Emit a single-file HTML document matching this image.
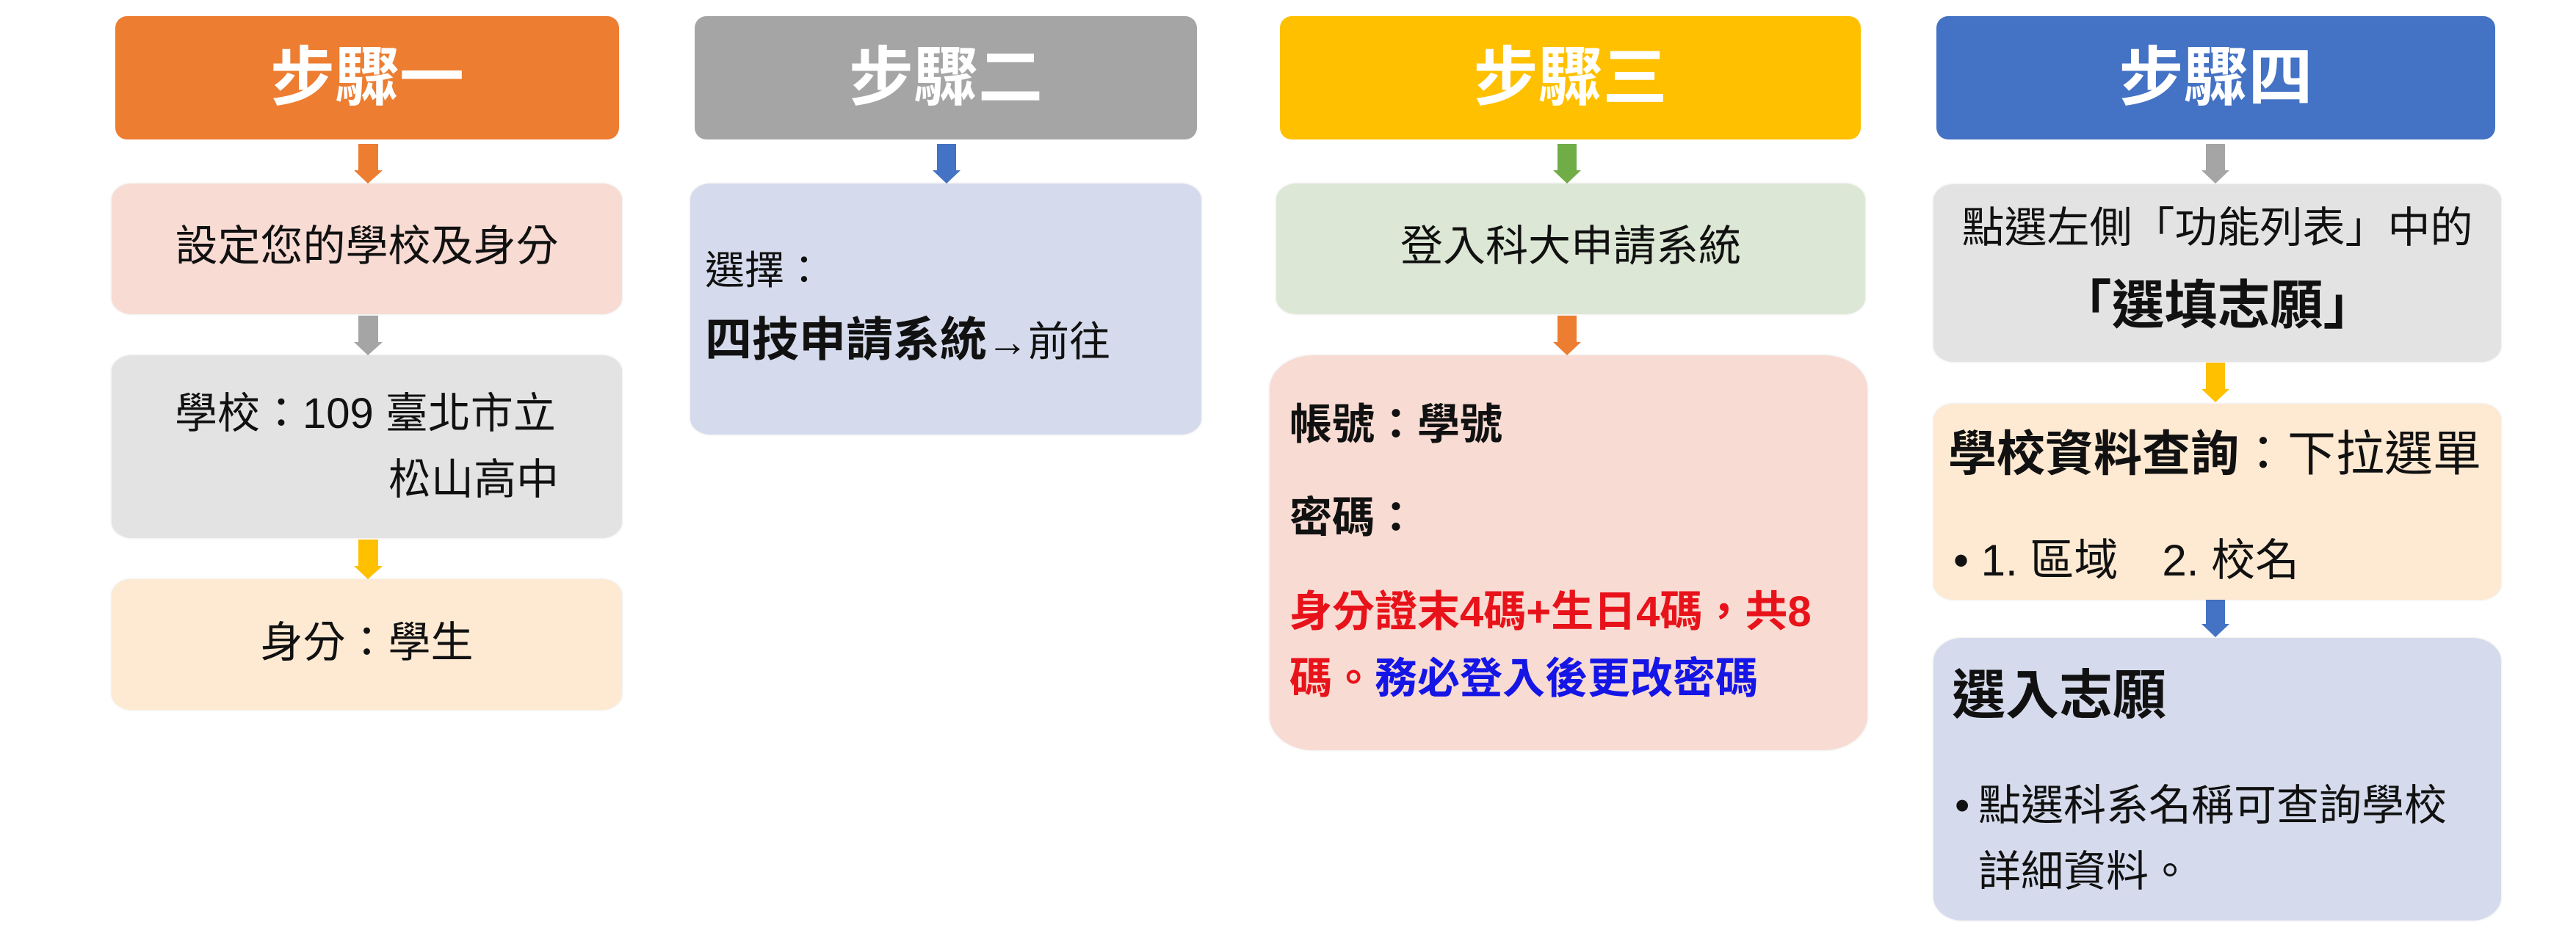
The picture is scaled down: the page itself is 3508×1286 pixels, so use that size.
<!DOCTYPE html>
<html><head><meta charset="utf-8"><style>
html,body{margin:0;padding:0;background:#fff}
body{width:3508px;height:1286px;position:relative;overflow:hidden;font-family:"Liberation Sans","Noto Sans CJK TC",sans-serif;color:#111}
.b{position:absolute;box-sizing:border-box}
.h{border-radius:16px;color:#fff;font-weight:bold;font-size:88px;text-align:center;line-height:168px}
.l{border-radius:28px/22px;box-shadow:0 0 3px rgba(0,0,0,0.12)}
.t{position:absolute;white-space:nowrap}
</style></head><body>

<!-- headers -->
<div class="b h" style="left:157px;top:22px;width:686px;height:168px;background:#ED7D31">步驟一</div>
<div class="b h" style="left:946px;top:22px;width:684px;height:168px;background:#A5A5A5">步驟二</div>
<div class="b h" style="left:1743px;top:22px;width:791px;height:168px;background:#FFC000">步驟三</div>
<div class="b h" style="left:2637px;top:22px;width:761px;height:168px;background:#4472C4">步驟四</div>

<!-- arrows -->
<svg class="b" style="left:0;top:0" width="3508" height="1286">
<g>
<polygon points="488,196 515,196 515,232 521,232 501,250 482,232 488,232" fill="#ED7D31"/>
<polygon points="488,430 515,430 515,466 521,466 501,484 482,466 488,466" fill="#A5A5A5"/>
<polygon points="488,735 515,735 515,771 521,771 501,789 482,771 488,771" fill="#FFC000"/>
<polygon points="1276,196 1302,196 1302,232 1308,232 1289,250 1270,232 1276,232" fill="#4472C4"/>
<polygon points="2121,196 2147,196 2147,232 2153,232 2134,250 2115,232 2121,232" fill="#70AD47"/>
<polygon points="2121,430 2147,430 2147,466 2153,466 2134,484 2115,466 2121,466" fill="#ED7D31"/>
<polygon points="3004,196 3030,196 3030,232 3036,232 3017,250 2998,232 3004,232" fill="#A5A5A5"/>
<polygon points="3004,494 3030,494 3030,530 3036,530 3017,548 2998,530 3004,530" fill="#FFC000"/>
<polygon points="3004,814 3030,814 3030,850 3036,850 3017,868 2998,850 3004,850" fill="#4472C4"/>
</g></svg>

<!-- step 1 -->
<div class="b l" style="left:152px;top:250px;width:695px;height:178px;background:#F8DBD3"></div>
<div class="t" style="left:152px;width:695px;text-align:center;top:301px;font-size:58px;line-height:70px">設定您的學校及身分</div>
<div class="b l" style="left:152px;top:484px;width:695px;height:249px;background:#E3E3E3"></div>
<div class="t" style="left:238px;top:529px;font-size:58px;line-height:70px">學校：109 臺北市立</div>
<div class="t" style="right:2747px;top:619px;font-size:58px;line-height:70px">松山高中</div>
<div class="b l" style="left:152px;top:789px;width:695px;height:178px;background:#FEE9D2"></div>
<div class="t" style="left:152px;width:695px;text-align:center;top:841px;font-size:58px;line-height:70px">身分：學生</div>

<!-- step 2 -->
<div class="b l" style="left:940px;top:250px;width:696px;height:342px;background:#D5DBEC"></div>
<div class="t" style="left:960px;top:334px;font-size:54px;line-height:70px">選擇：</div>
<div class="t" style="left:960px;top:424px;font-size:64px;line-height:78px"><b>四技申請系統</b><span style="font-size:56px">→前往</span></div>

<!-- step 3 -->
<div class="b l" style="left:1738px;top:250px;width:802px;height:178px;background:#DCE8D5"></div>
<div class="t" style="left:1738px;width:802px;text-align:center;top:301px;font-size:58px;line-height:70px">登入科大申請系統</div>
<div class="b l" style="left:1729px;top:484px;width:814px;height:538px;background:#F8DBD3;border-radius:60px/46px"></div>
<div class="t" style="left:1756px;top:544px;font-size:58px;line-height:70px;font-weight:bold">帳號：學號</div>
<div class="t" style="left:1756px;top:671px;font-size:58px;line-height:70px;font-weight:bold">密碼：</div>
<div class="t" style="left:1756px;top:799px;font-size:58px;line-height:70px;font-weight:bold;color:#E8131A">身分證末4碼+生日4碼，共8</div>
<div class="t" style="left:1756px;top:890px;font-size:58px;line-height:70px;font-weight:bold"><span style="color:#E8131A">碼。</span><span style="color:#1515E6">務必登入後更改密碼</span></div>

<!-- step 4 -->
<div class="b l" style="left:2633px;top:251px;width:773px;height:242px;background:#E3E3E3"></div>
<div class="t" style="left:2633px;width:773px;text-align:center;top:276px;font-size:58px;line-height:70px">點選左側「功能列表」中的</div>
<div class="t" style="left:2633px;width:773px;text-align:center;top:376px;font-size:72px;line-height:82px;font-weight:bold">「選填志願」</div>
<div class="b l" style="left:2633px;top:550px;width:773px;height:267px;background:#FEE9D2"></div>
<div class="t" style="left:2653px;top:578px;font-size:66px;line-height:80px"><b>學校資料查詢</b>：下拉選單</div>
<div class="t" style="left:2660px;top:726px;font-size:60px;line-height:76px">• 1. 區域　2. 校名</div>
<div class="b l" style="left:2633px;top:869px;width:773px;height:385px;background:#D5DBEC;border-radius:40px/32px"></div>
<div class="t" style="left:2658px;top:907px;font-size:73px;line-height:82px;font-weight:bold">選入志願</div>
<div class="t" style="left:2662px;top:1063px;font-size:58px;line-height:70px">•<span style="position:absolute;left:32px">點選科系名稱可查詢學校</span></div>
<div class="t" style="left:2694px;top:1153px;font-size:58px;line-height:70px">詳細資料。</div>
</body></html>
